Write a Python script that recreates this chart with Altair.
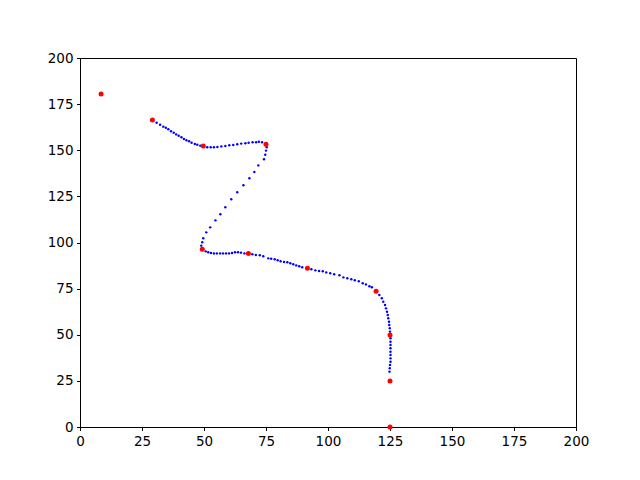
import altair as alt
import pandas as pd

# Control points (red)
ctrl_x = [8.5, 29.2, 49.7, 75.0, 49.3, 67.9, 91.7, 119.4, 125.0, 125.0, 125.0]
ctrl_y = [180.5, 166.4, 152.3, 153.2, 96.3, 94.1, 86.0, 73.6, 49.9, 24.9, 0.0]

# Curve sample points (blue)
curve_x = [
    30.9, 32.3, 33.6, 34.6, 35.6, 36.7, 37.8, 38.8, 39.8, 40.9, 41.9, 42.9, 44.0, 45.0, 46.3, 47.3, 48.5,
    51.3, 52.7, 54.0, 55.4, 57.0, 58.6, 60.2, 61.8, 63.4, 65.0, 66.7, 68.0, 69.6, 71.0, 72.1, 73.4,
    75.3, 75.0, 74.7, 74.2, 71.9, 70.3, 68.3, 65.9, 63.4, 61.0, 58.6, 56.6, 54.6, 52.5, 50.9, 49.7, 49.3, 48.9,
    50.7, 51.7, 52.8, 54.0, 55.2, 56.5, 57.7, 58.9, 60.1, 61.3, 62.5, 63.7, 64.9, 66.3,
    69.5, 70.9, 72.5, 73.9, 75.9, 77.1, 78.5, 79.7, 80.9, 82.3, 83.6, 84.8, 86.0, 87.2, 88.4, 89.6,
    93.3, 94.9, 96.4, 97.9, 99.3, 100.9, 102.5, 104.6, 106.2, 107.8, 109.4, 110.8, 112.4, 114.0, 115.3, 116.7, 117.7,
    120.7, 121.7, 122.3, 123.0, 123.4, 123.8, 124.1, 124.3, 124.6, 124.7, 124.9, 125.0,
    125.2, 125.2, 125.2, 125.2, 125.2, 125.2, 125.2, 125.2, 125.0, 124.9, 124.8,
]
curve_y = [
    164.9, 163.8, 162.8, 162.2, 161.4, 160.3, 159.5, 158.6, 157.9, 157.0, 156.1, 155.4, 154.9, 154.1, 153.4, 153.0, 152.5,
    151.6, 151.6, 151.6, 151.8, 152.1, 152.3, 152.7, 152.8, 153.2, 153.6, 153.8, 154.1, 154.3, 154.3, 154.6, 154.3,
    151.6, 149.8, 147.6, 145.1, 141.8, 138.2, 134.8, 131.0, 127.2, 123.4, 119.1, 115.3, 112.0, 108.2, 105.5, 102.3, 100.1, 98.3,
    95.2, 94.7, 94.3, 94.1, 94.1, 94.1, 94.1, 94.1, 94.1, 94.3, 94.7, 94.7, 94.5, 94.1,
    93.6, 93.2, 93.1, 92.5, 91.4, 91.2, 90.9, 90.4, 89.8, 89.4, 89.3, 88.7, 88.2, 87.6, 87.1, 86.6,
    85.5, 84.9, 84.6, 84.4, 83.8, 83.3, 82.8, 82.2, 81.1, 80.6, 80.1, 79.5, 79.0, 77.9, 77.3, 76.3, 75.7,
    71.5, 69.8, 67.9, 66.1, 64.3, 62.5, 60.7, 58.9, 57.1, 55.3, 53.5, 51.7,
    48.1, 46.2, 44.4, 42.7, 40.8, 39.0, 37.2, 35.4, 33.6, 31.8, 30.0,
]

ticks = [0, 25, 50, 75, 100, 125, 150, 175, 200]

curve_df = pd.DataFrame({"x": curve_x, "y": curve_y})
ctrl_df = pd.DataFrame({"x": ctrl_x, "y": ctrl_y})

xs = alt.Scale(domain=[0, 200], nice=False, zero=False)
ys = alt.Scale(domain=[0, 200], nice=False, zero=False)
xax = alt.Axis(values=ticks, title=None, grid=False, labelFlush=False)
yax = alt.Axis(values=ticks, title=None, grid=False, labelFlush=False)

curve = alt.Chart(curve_df).mark_point(filled=True, color="#0000ff", size=6, opacity=1).encode(
    x=alt.X("x:Q", scale=xs, axis=xax),
    y=alt.Y("y:Q", scale=ys, axis=yax),
)
ctrl = alt.Chart(ctrl_df).mark_point(filled=True, color="#ff0000", size=25, opacity=1, clip=False).encode(
    x=alt.X("x:Q", scale=xs, axis=xax),
    y=alt.Y("y:Q", scale=ys, axis=yax),
)

chart = (
    alt.layer(curve, ctrl)
    .properties(
        width=496,
        height=369,
        autosize="none",
        padding={"left": 72, "top": 50, "right": 56, "bottom": 37},
        background="white",
    )
    .configure_view(stroke="black", strokeWidth=1)
    .configure_axis(
        domainColor="black",
        domainWidth=1,
        tickColor="black",
        tickSize=3.5,
        tickWidth=1,
        labelColor="black",
        labelFont="DejaVu Sans",
        labelFontSize=13.5,
        labelPadding=3.5,
        labelFlush=False,
        labelOverlap=False,
    )
)

chart.save("out.html", embed_options={"renderer": "svg", "actions": False})
